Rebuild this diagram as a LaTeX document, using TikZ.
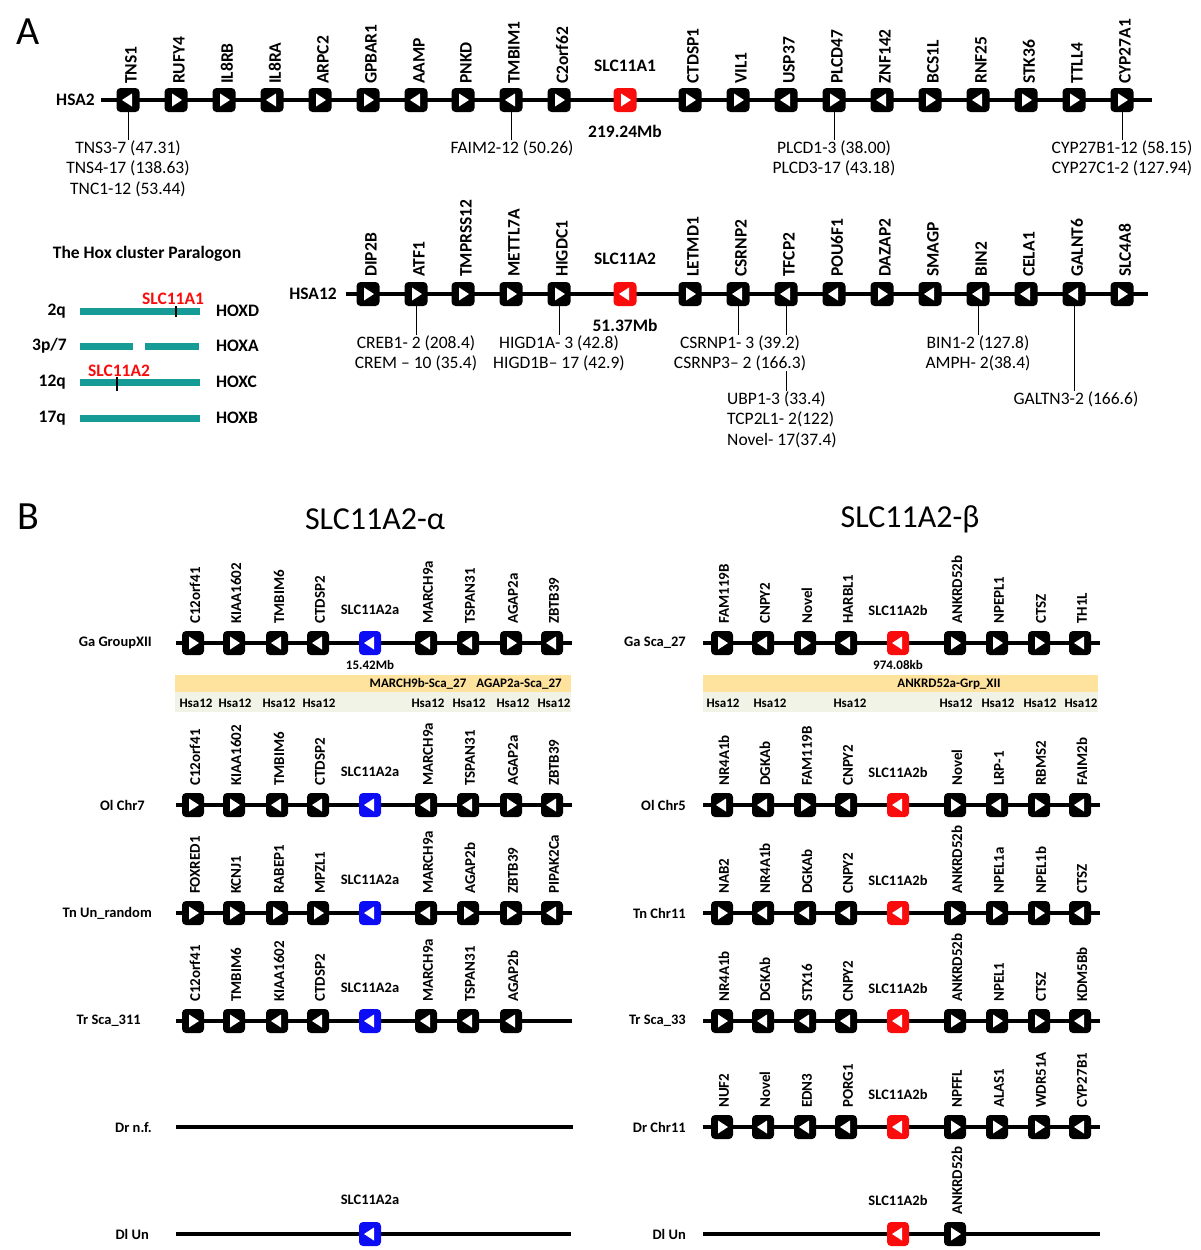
\documentclass[tikz,border=0pt]{standalone}
\usepackage{fontspec}
\setmainfont{Carlito}
\usetikzlibrary{calc}

\definecolor{slcred}{RGB}{250,12,12}
\definecolor{slcblue}{RGB}{12,12,245}
\definecolor{hoxteal}{RGB}{22,155,150}
\definecolor{bandyellow}{RGB}{253,227,158}
\definecolor{bandgreen}{RGB}{240,243,229}

\begin{document}
\begin{tikzpicture}[x=1pt,y=-1pt,inner sep=0pt,
  chrom/.style={line width=4pt},
  bchrom/.style={line width=3.5pt},
  hoxbar/.style={line width=7pt,hoxteal},
  gbox/.style={fill=black,rounded corners=4pt,minimum width=23pt,minimum height=24pt},
  sbox/.style={fill=black,rounded corners=4pt,minimum width=22pt,minimum height=24pt},
  glab/.style={rotate=90,anchor=west,font=\fontsize{17.5}{18}\selectfont\bfseries},
  slab/.style={rotate=90,anchor=west,font=\fontsize{15}{16}\selectfont\bfseries},
  big/.style={font=\fontsize{17.5}{20.5}\selectfont\bfseries},
  mid/.style={font=\fontsize{14.5}{16}\selectfont\bfseries},
  tiny/.style={font=\fontsize{13}{14}\selectfont\bfseries},
  sub/.style={anchor=north,align=center,font=\fontsize{17.5}{20.5}\selectfont},
  pics/tri/.style={code={\fill[white] (-4*#1,-6.5) -- (-4*#1,6.5) -- (6*#1,0) -- cycle;}}]
\useasboundingbox (0,0) rectangle (1200,1250);

%% ---------------- panel A
\node[font=\fontsize{40}{40}\selectfont] (pA) at (28,32) {A};

% HSA2
\node[big,anchor=east] (hsa2) at (95,100) {HSA2};
\coordinate (hsa2-l) at (101,100);
\coordinate (hsa2-r) at (1152,100);
\draw[chrom] (hsa2-l) -- (hsa2-r);
\foreach \x/\dir/\gn in {128/-1/TNS1,176/1/RUFY4,224/1/IL8RB,272/-1/IL8RA,320/1/ARPC2,368/1/GPBAR1,
    416/-1/AAMP,463/1/PNKD,511/-1/TMBIM1,559/1/C2orf62,690/1/CTDSP1,738/1/VIL1,786/-1/USP37,
    834/1/PLCD47,882/-1/ZNF142,930/1/BCS1L,978/-1/RNF25,1026/1/STK36,1074/1/TTLL4,1122/1/CYP27A1}{
  \node[gbox] (hsa2-\gn) at (\x,100) {};
  \pic at (hsa2-\gn) {tri=\dir};
  \node[glab] (hsa2-\gn-t) at ($(hsa2-\gn)+(3,-16)$) {\gn};
}
\node[gbox,fill=slcred] (hsa2-SLC11A1) at (625,100) {};
\pic at (hsa2-SLC11A1) {tri=1};
\node[big] (slc1) at (625,66) {SLC11A1};
\node[big] (slc1-mb) at (625,131) {219.24Mb};
\node[sub] (tns) at (128,140) {TNS3-7 (47.31)\\TNS4-17 (138.63)\\TNC1-12 (53.44)};
\node[sub] (faim) at (512,140) {FAIM2-12 (50.26)};
\node[sub] (plcd) at (834,140) {PLCD1-3 (38.00)\\PLCD3-17 (43.18)};
\node[sub] (cyp) at (1122,140) {CYP27B1-12 (58.15)\\CYP27C1-2 (127.94)};
\draw (hsa2-TNS1) -- (hsa2-TNS1 |- tns.north);
\draw (hsa2-TMBIM1) -- (hsa2-TMBIM1 |- faim.north);
\draw (hsa2-PLCD47) -- (hsa2-PLCD47 |- plcd.north);
\draw (hsa2-CYP27A1) -- (hsa2-CYP27A1 |- cyp.north);

% Hox cluster
\node[big] (hox) at (147,254) {The Hox cluster Paralogon};
\node[big,anchor=east] (q2) at (66,311) {2q};
\node[big,anchor=east] (q3) at (67,346) {3p/7};
\node[big,anchor=east] (q12) at (66,382) {12q};
\node[big,anchor=east] (q17) at (66,418) {17q};
\draw[hoxbar] (80,311) -- (200,311);
\draw[hoxbar] (80,346) -- (133,346);
\draw[hoxbar] (145,346) -- (199,346);
\draw[hoxbar] (80,382) -- (200,382);
\draw[hoxbar] (80,418) -- (200,418);
\node[big,anchor=west] (hoxd) at (216,311) {HOXD};
\node[big,anchor=west] (hoxa) at (216,346) {HOXA};
\node[big,anchor=west] (hoxc) at (216,382) {HOXC};
\node[big,anchor=west] (hoxb) at (216,418) {HOXB};
\node[big,text=slcred] (hox-a1) at (173,299) {SLC11A1};
\node[big,text=slcred] (hox-a2) at (119,371) {SLC11A2};
\draw[line width=1.3pt] (176,306) -- (176,317);
\draw[line width=1.3pt] (117,377) -- (117,391);

% HSA12
\node[big,anchor=east] (hsa12) at (337,294) {HSA12};
\coordinate (hsa12-l) at (346,294);
\coordinate (hsa12-r) at (1148,294);
\draw[chrom] (hsa12-l) -- (hsa12-r);
\foreach \x/\dir/\gn in {368/1/DIP2B,416/1/ATF1,463/1/TMPRSS12,511/1/METTL7A,559/1/HIGDC1,690/1/LETMD1,
    738/-1/CSRNP2,786/-1/TFCP2,834/-1/POU6F1,882/1/DAZAP2,930/-1/SMAGP,978/-1/BIN2,1026/-1/CELA1,
    1074/-1/GALNT6,1122/1/SLC4A8}{
  \node[gbox] (hsa12-\gn) at (\x,294) {};
  \pic at (hsa12-\gn) {tri=\dir};
  \node[glab] (hsa12-\gn-t) at ($(hsa12-\gn)+(3,-17)$) {\gn};
}
\node[gbox,fill=slcred] (hsa12-SLC11A2) at (625,294) {};
\pic at (hsa12-SLC11A2) {tri=-1};
\node[big] (slc2) at (625,259) {SLC11A2};
\node[big] (slc2-mb) at (625,325) {51.37Mb};
\node[sub] (creb) at (416,335) {CREB1- 2 (208.4)\\CREM – 10 (35.4)};
\node[sub] (higd) at (559,335) {HIGD1A- 3 (42.8)\\HIGD1B– 17 (42.9)};
\node[sub] (csrnp) at (740,335) {CSRNP1- 3 (39.2)\\CSRNP3– 2 (166.3)};
\node[sub,anchor=north west,align=left] (ubp) at (727,391) {UBP1-3 (33.4)\\TCP2L1- 2(122)\\Novel- 17(37.4)};
\node[sub] (bin) at (978,335) {BIN1-2 (127.8)\\AMPH- 2(38.4)};
\node[sub] (galtn) at (1076,391) {GALTN3-2 (166.6)};
\draw (hsa12-ATF1) -- (hsa12-ATF1 |- creb.north);
\draw (hsa12-HIGDC1) -- (hsa12-HIGDC1 |- higd.north);
\draw (hsa12-CSRNP2) -- (hsa12-CSRNP2 |- csrnp.north);
\draw (hsa12-TFCP2) -- (hsa12-TFCP2 |- csrnp.north);
\draw (hsa12-TFCP2 |- csrnp.south) -- (hsa12-TFCP2 |- ubp.north);
\draw (hsa12-BIN2) -- (hsa12-BIN2 |- bin.north);
\draw (hsa12-GALNT6) -- (hsa12-GALNT6 |- galtn.north);

%% ---------------- panel B
\node[font=\fontsize{40}{40}\selectfont] (pB) at (28,517) {B};
\node[font=\fontsize{32}{32}\selectfont] (alpha) at (375,519) {SLC11A2-α};
\node[font=\fontsize{32}{32}\selectfont] (beta) at (910,519) {SLC11A2-β};

% alpha: Ga GroupXII
\node[mid,anchor=east] (gaa) at (152,643) {Ga GroupXII};
\coordinate (gaa-l) at (176,643);
\coordinate (gaa-r) at (572,643);
\draw[bchrom] (gaa-l) -- (gaa-r);
\foreach \x/\dir/\gn in {193/1/C12orf41,234/1/KIAA1602,277/-1/TMBIM6,318/-1/CTDSP2,
    426/-1/MARCH9a,468/-1/TSPAN31,511/1/AGAP2a,552/-1/ZBTB39}{
  \node[sbox] (gaa-\gn) at (\x,643) {};
  \pic at (gaa-\gn) {tri=\dir};
  \node[slab] (gaa-\gn-t) at ($(gaa-\gn)+(2,-19)$) {\gn};
}
\node[sbox,fill=slcblue] (gaa-SLC) at (370,643) {};
\pic at (gaa-SLC) {tri=-1};
\node[mid] (gaa-s) at (370,610) {SLC11A2a};
\node[tiny] (gaa-mb) at (370,665) {15.42Mb};
\fill[bandyellow] (175,675) rectangle (571,692);
\fill[bandgreen] (175,692) rectangle (571,712);
\node[tiny] (gaa-m9) at (418,684) {MARCH9b-Sca\_27};
\node[tiny] (gaa-ag) at (519,684) {AGAP2a-Sca\_27};
\foreach \x in {196,235,279,319,428,469,513,554}
  \node[tiny] (gaa-h\x) at (\x,703) {Hsa12};

% alpha: Ol Chr7
\node[mid,anchor=east] (ola) at (145,805) {Ol Chr7};
\coordinate (ola-l) at (176,805);
\coordinate (ola-r) at (572,805);
\draw[bchrom] (ola-l) -- (ola-r);
\foreach \x/\dir/\gn in {193/1/C12orf41,234/1/KIAA1602,277/-1/TMBIM6,318/-1/CTDSP2,
    426/-1/MARCH9a,468/-1/TSPAN31,511/1/AGAP2a,552/-1/ZBTB39}{
  \node[sbox] (ola-\gn) at (\x,805) {};
  \pic at (ola-\gn) {tri=\dir};
  \node[slab] (ola-\gn-t) at ($(ola-\gn)+(2,-19)$) {\gn};
}
\node[sbox,fill=slcblue] (ola-SLC) at (370,805) {};
\pic at (ola-SLC) {tri=-1};
\node[mid] (ola-s) at (370,772) {SLC11A2a};

% alpha: Tn Un_random
\node[mid,anchor=east] (tna) at (152,913) {Tn Un\_random};
\coordinate (tna-l) at (176,913);
\coordinate (tna-r) at (572,913);
\draw[bchrom] (tna-l) -- (tna-r);
\foreach \x/\dir/\gn in {193/1/FOXRED1,234/1/KCNJ1,277/1/RABEP1,318/1/MPZL1,
    426/-1/MARCH9a,468/1/AGAP2b,511/1/ZBTB39,552/-1/PIPAK2Ca}{
  \node[sbox] (tna-\gn) at (\x,913) {};
  \pic at (tna-\gn) {tri=\dir};
  \node[slab] (tna-\gn-t) at ($(tna-\gn)+(2,-19)$) {\gn};
}
\node[sbox,fill=slcblue] (tna-SLC) at (370,913) {};
\pic at (tna-SLC) {tri=-1};
\node[mid] (tna-s) at (370,880) {SLC11A2a};

% alpha: Tr Sca_311
\node[mid,anchor=east] (tra) at (141,1021) {Tr Sca\_311};
\coordinate (tra-l) at (176,1021);
\coordinate (tra-r) at (572,1021);
\draw[bchrom] (tra-l) -- (tra-r);
\foreach \x/\dir/\gn in {193/1/C12orf41,234/1/TMBIM6,277/-1/KIAA1602,318/-1/CTDSP2,
    426/-1/MARCH9a,468/-1/TSPAN31,511/-1/AGAP2b}{
  \node[sbox] (tra-\gn) at (\x,1021) {};
  \pic at (tra-\gn) {tri=\dir};
  \node[slab] (tra-\gn-t) at ($(tra-\gn)+(2,-19)$) {\gn};
}
\node[sbox,fill=slcblue] (tra-SLC) at (370,1021) {};
\pic at (tra-SLC) {tri=-1};
\node[mid] (tra-s) at (370,988) {SLC11A2a};

% alpha: Dr n.f.
\node[mid,anchor=east] (dra) at (152,1127) {Dr n.f.};
\coordinate (dra-l) at (176,1127);
\coordinate (dra-r) at (573,1127);
\draw[line width=4.5pt] (dra-l) -- (dra-r);

% alpha: Dl Un
\node[mid,anchor=east] (dla) at (149,1234) {Dl Un};
\coordinate (dla-l) at (176,1234);
\coordinate (dla-r) at (571,1234);
\draw[bchrom] (dla-l) -- (dla-r);
\node[sbox,fill=slcblue] (dla-SLC) at (370,1234) {};
\pic at (dla-SLC) {tri=-1};
\node[mid] (dla-s) at (370,1200) {SLC11A2a};

% beta: Ga Sca_27
\node[mid,anchor=east] (gab) at (686,643) {Ga Sca\_27};
\coordinate (gab-l) at (703,643);
\coordinate (gab-r) at (1100,643);
\draw[bchrom] (gab-l) -- (gab-r);
\foreach \x/\dir/\gn in {722/1/FAM119B,763/-1/CNPY2,805/1/Novel,846/-1/HARBL1,
    955/1/ANKRD52b,997/1/NPEPL1,1039/1/CTSZ,1080/-1/TH1L}{
  \node[sbox] (gab-\gn) at (\x,643) {};
  \pic at (gab-\gn) {tri=\dir};
  \node[slab] (gab-\gn-t) at ($(gab-\gn)+(2,-19)$) {\gn};
}
\node[sbox,fill=slcred] (gab-SLC) at (898,643) {};
\pic at (gab-SLC) {tri=-1};
\node[mid] (gab-s) at (898,610) {SLC11A2b};
\node[tiny] (gab-kb) at (898,665) {974.08kb};
\fill[bandyellow] (703,675) rectangle (1098,692);
\fill[bandgreen] (703,692) rectangle (1098,712);
\node[tiny] (gab-an) at (949,684) {ANKRD52a-Grp\_XII};
\foreach \x in {723,770,850,956,998,1040,1081}
  \node[tiny] (gab-h\x) at (\x,703) {Hsa12};

% beta: Ol Chr5
\node[mid,anchor=east] (olb) at (686,805) {Ol Chr5};
\coordinate (olb-l) at (703,805);
\coordinate (olb-r) at (1100,805);
\draw[bchrom] (olb-l) -- (olb-r);
\foreach \x/\dir/\gn in {722/-1/NR4A1b,763/-1/DGKAb,805/1/FAM119B,846/-1/CNPY2,
    955/1/Novel,997/-1/LRP-1,1039/1/RBMS2,1080/-1/FAIM2b}{
  \node[sbox] (olb-\gn) at (\x,805) {};
  \pic at (olb-\gn) {tri=\dir};
  \node[slab] (olb-\gn-t) at ($(olb-\gn)+(2,-19)$) {\gn};
}
\node[sbox,fill=slcred] (olb-SLC) at (898,805) {};
\pic at (olb-SLC) {tri=-1};
\node[mid] (olb-s) at (898,772) {SLC11A2b};

% beta: Tn Chr11
\node[mid,anchor=east] (tnb) at (686,913) {Tn Chr11};
\coordinate (tnb-l) at (703,913);
\coordinate (tnb-r) at (1100,913);
\draw[bchrom] (tnb-l) -- (tnb-r);
\foreach \x/\dir/\gn in {722/1/NAB2,763/-1/NR4A1b,805/-1/DGKAb,846/-1/CNPY2,
    955/1/ANKRD52b,997/1/NPEL1a,1039/1/NPEL1b,1080/-1/CTSZ}{
  \node[sbox] (tnb-\gn) at (\x,913) {};
  \pic at (tnb-\gn) {tri=\dir};
  \node[slab] (tnb-\gn-t) at ($(tnb-\gn)+(2,-19)$) {\gn};
}
\node[sbox,fill=slcred] (tnb-SLC) at (898,913) {};
\pic at (tnb-SLC) {tri=-1};
\node[mid] (tnb-s) at (898,880) {SLC11A2b};

% beta: Tr Sca_33
\node[mid,anchor=east] (trb) at (686,1021) {Tr Sca\_33};
\coordinate (trb-l) at (703,1021);
\coordinate (trb-r) at (1100,1021);
\draw[bchrom] (trb-l) -- (trb-r);
\foreach \x/\dir/\gn in {722/1/NR4A1b,763/-1/DGKAb,805/-1/STX16,846/-1/CNPY2,
    955/1/ANKRD52b,997/1/NPEL1,1039/1/CTSZ,1080/-1/KDM5Bb}{
  \node[sbox] (trb-\gn) at (\x,1021) {};
  \pic at (trb-\gn) {tri=\dir};
  \node[slab] (trb-\gn-t) at ($(trb-\gn)+(2,-19)$) {\gn};
}
\node[sbox,fill=slcred] (trb-SLC) at (898,1021) {};
\pic at (trb-SLC) {tri=-1};
\node[mid] (trb-s) at (898,988) {SLC11A2b};

% beta: Dr Chr11
\node[mid,anchor=east] (drb) at (686,1127) {Dr Chr11};
\coordinate (drb-l) at (703,1127);
\coordinate (drb-r) at (1100,1127);
\draw[bchrom] (drb-l) -- (drb-r);
\foreach \x/\dir/\gn in {722/1/NUF2,763/-1/Novel,805/-1/EDN3,846/-1/PORG1,
    955/1/NPFFL,997/1/ALAS1,1039/1/WDR51A,1080/-1/CYP27B1}{
  \node[sbox] (drb-\gn) at (\x,1127) {};
  \pic at (drb-\gn) {tri=\dir};
  \node[slab] (drb-\gn-t) at ($(drb-\gn)+(2,-19)$) {\gn};
}
\node[sbox,fill=slcred] (drb-SLC) at (898,1127) {};
\pic at (drb-SLC) {tri=-1};
\node[mid] (drb-s) at (898,1094) {SLC11A2b};

% beta: Dl Un
\node[mid,anchor=east] (dlb) at (686,1234) {Dl Un};
\coordinate (dlb-l) at (703,1234);
\coordinate (dlb-r) at (1100,1234);
\draw[bchrom] (dlb-l) -- (dlb-r);
\node[sbox,fill=slcred] (dlb-SLC) at (898,1234) {};
\pic at (dlb-SLC) {tri=-1};
\node[mid] (dlb-s) at (898,1200) {SLC11A2b};
\node[sbox] (dlb-ANKRD52b) at (955,1234) {};
\pic at (dlb-ANKRD52b) {tri=1};
\node[slab] (dlb-ANKRD52b-t) at ($(dlb-ANKRD52b)+(2,-19)$) {ANKRD52b};
\end{tikzpicture}
\end{document}
